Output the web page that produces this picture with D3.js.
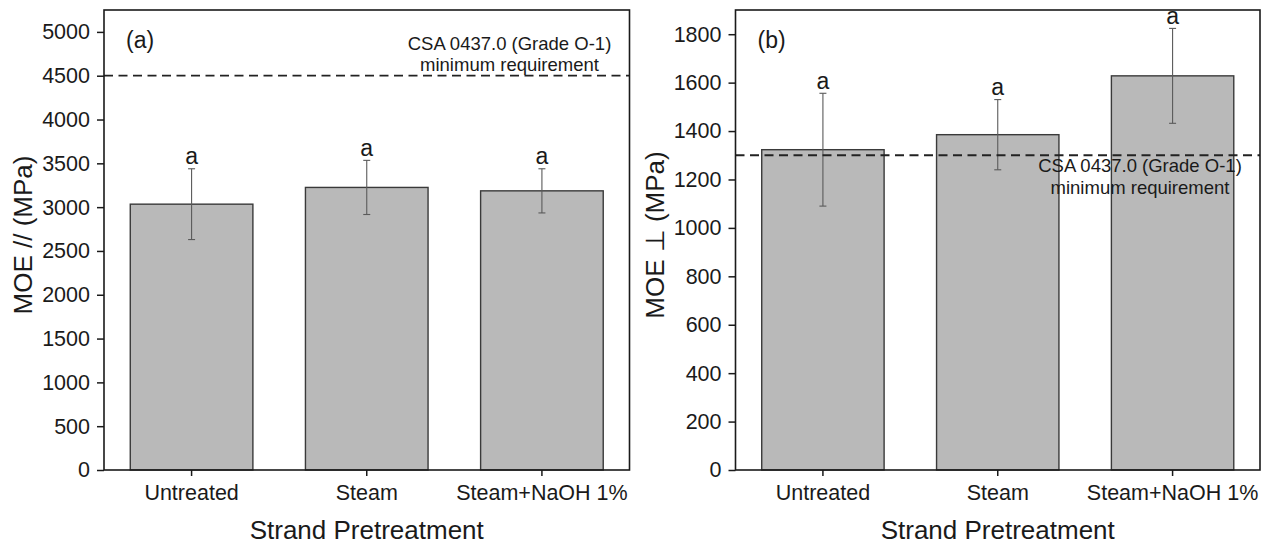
<!DOCTYPE html>
<html>
<head>
<meta charset="utf-8">
<script src="https://cdn.jsdelivr.net/npm/d3@7"></script>
<style>
  html, body { margin: 0; padding: 0; background: #fff; }
  svg { display: block; font-family: "Liberation Sans", Arial, Helvetica, sans-serif; }
</style>
</head>
<body>
<svg id="chart" width="1268" height="545"></svg>
<script>
// Strand pretreatment groups
const categories = ["Untreated", "Steam", "Steam+NaOH 1%"];

// (a) MOE parallel, mean and standard deviation (MPa)
const moeParallel = [3034, 3225, 3186];
const moeParallelSD = [404, 309, 252];
const lettersParallel = ["a", "a", "a"];
const ticksParallel = [0, 500, 1000, 1500, 2000, 2500, 3000, 3500, 4000, 4500, 5000];
const csaParallel = 4500;

// (b) MOE perpendicular, mean and standard deviation (MPa)
const moePerp = [1323, 1385, 1628];
const moePerpSD = [233, 145, 196];
const lettersPerp = ["a", "a", "a"];
const ticksPerp = [0, 200, 400, 600, 800, 1000, 1200, 1400, 1600, 1800];
const csaPerp = 1300;

const csaLines = ["CSA 0437.0 (Grade O-1)", "minimum requirement"];

const svg = d3.select("#chart");
const ink = "#1a1a1a";

function panel(opts) {
  const { left, right, top, bottom, yMax, values, sd, letters, ticks, ref,
          tag, yTitle, noteAbove } = opts;
  const g = svg.append("g");

  const x = d3.scaleBand().domain(categories).range([left, right])
    .paddingInner(0.3).paddingOuter(0.15);
  const y = d3.scaleLinear().domain([0, yMax]).range([bottom, top]);

  // bars
  g.selectAll("rect.bar").data(categories).join("rect")
    .attr("class", "bar")
    .attr("x", d => x(d))
    .attr("width", x.bandwidth())
    .attr("y", (d, i) => y(values[i]))
    .attr("height", (d, i) => y(0) - y(values[i]))
    .attr("fill", "#b9b9b9")
    .attr("stroke", "#3a3a3a")
    .attr("stroke-width", 1.4);

  // error bars
  const cap = 3.5;
  const eb = g.selectAll("g.err").data(categories).join("g").attr("class", "err")
    .attr("stroke", "#5a5a5a").attr("stroke-width", 1.1);
  eb.append("line")
    .attr("x1", d => x(d) + x.bandwidth() / 2).attr("x2", d => x(d) + x.bandwidth() / 2)
    .attr("y1", (d, i) => y(values[i] + sd[i])).attr("y2", (d, i) => y(values[i] - sd[i]));
  eb.append("line")
    .attr("x1", d => x(d) + x.bandwidth() / 2 - cap).attr("x2", d => x(d) + x.bandwidth() / 2 + cap)
    .attr("y1", (d, i) => y(values[i] + sd[i])).attr("y2", (d, i) => y(values[i] + sd[i]));
  eb.append("line")
    .attr("x1", d => x(d) + x.bandwidth() / 2 - cap).attr("x2", d => x(d) + x.bandwidth() / 2 + cap)
    .attr("y1", (d, i) => y(values[i] - sd[i])).attr("y2", (d, i) => y(values[i] - sd[i]));

  // significance letters
  g.selectAll("text.sig").data(categories).join("text")
    .attr("class", "sig")
    .attr("x", d => x(d) + x.bandwidth() / 2)
    .attr("y", (d, i) => y(values[i] + sd[i]) - 4.5)
    .attr("text-anchor", "middle")
    .attr("font-size", 23)
    .attr("fill", ink)
    .text((d, i) => letters[i]);

  // standard requirement line
  g.append("line")
    .attr("x1", left).attr("x2", right)
    .attr("y1", y(ref)).attr("y2", y(ref))
    .attr("stroke", "#222").attr("stroke-width", 1.8)
    .attr("stroke-dasharray", "9,5.5");

  const noteX = right - 120;
  const noteY = noteAbove ? [y(ref) - 26, y(ref) - 5] : [y(ref) + 17, y(ref) + 39];
  g.selectAll("text.note").data(csaLines).join("text")
    .attr("class", "note")
    .attr("x", noteX)
    .attr("y", (d, i) => noteY[i])
    .attr("text-anchor", "middle")
    .attr("font-size", 18.5)
    .attr("fill", ink)
    .text(d => d);

  // axes
  const ya = g.append("g").attr("transform", `translate(${left},0)`)
    .call(d3.axisLeft(y).tickValues(ticks).tickFormat(d3.format("d"))
      .tickSize(7).tickSizeOuter(0).tickPadding(7));
  const xa = g.append("g").attr("transform", `translate(0,${bottom})`)
    .call(d3.axisBottom(x).tickSize(6).tickSizeOuter(0).tickPadding(9));
  [ya, xa].forEach(a => {
    a.select(".domain").remove();
    a.selectAll(".tick line").attr("stroke", ink).attr("stroke-width", 1.5);
    a.selectAll(".tick text").attr("fill", ink).attr("font-size", 21.5)
      .attr("font-family", "'Liberation Sans', Arial, sans-serif");
  });

  // frame
  g.append("rect")
    .attr("x", left).attr("y", top)
    .attr("width", right - left).attr("height", bottom - top)
    .attr("fill", "none").attr("stroke", ink).attr("stroke-width", 1.6);

  // panel tag
  g.append("text")
    .attr("x", left + 22).attr("y", top + 38)
    .attr("font-size", 23).attr("fill", ink)
    .text(tag);

  // axis titles
  g.append("text")
    .attr("transform", `translate(${left - 72},${(top + bottom) / 2 - 5}) rotate(-90)`)
    .attr("text-anchor", "middle")
    .attr("font-size", 26).attr("fill", ink)
    .text(yTitle);
  g.append("text")
    .attr("x", (left + right) / 2).attr("y", 539)
    .attr("text-anchor", "middle")
    .attr("font-size", 26).attr("fill", ink)
    .text("Strand Pretreatment");
}

panel({
  left: 104, right: 629.5, top: 10, bottom: 470, yMax: 5250,
  values: moeParallel, sd: moeParallelSD, letters: lettersParallel,
  ticks: ticksParallel, ref: csaParallel, tag: "(a)",
  yTitle: "MOE // (MPa)", noteAbove: true
});

panel({
  left: 735.5, right: 1260, top: 10, bottom: 470, yMax: 1900,
  values: moePerp, sd: moePerpSD, letters: lettersPerp,
  ticks: ticksPerp, ref: csaPerp, tag: "(b)",
  yTitle: "MOE \u22A5 (MPa)", noteAbove: false
});
</script>
</body>
</html>
